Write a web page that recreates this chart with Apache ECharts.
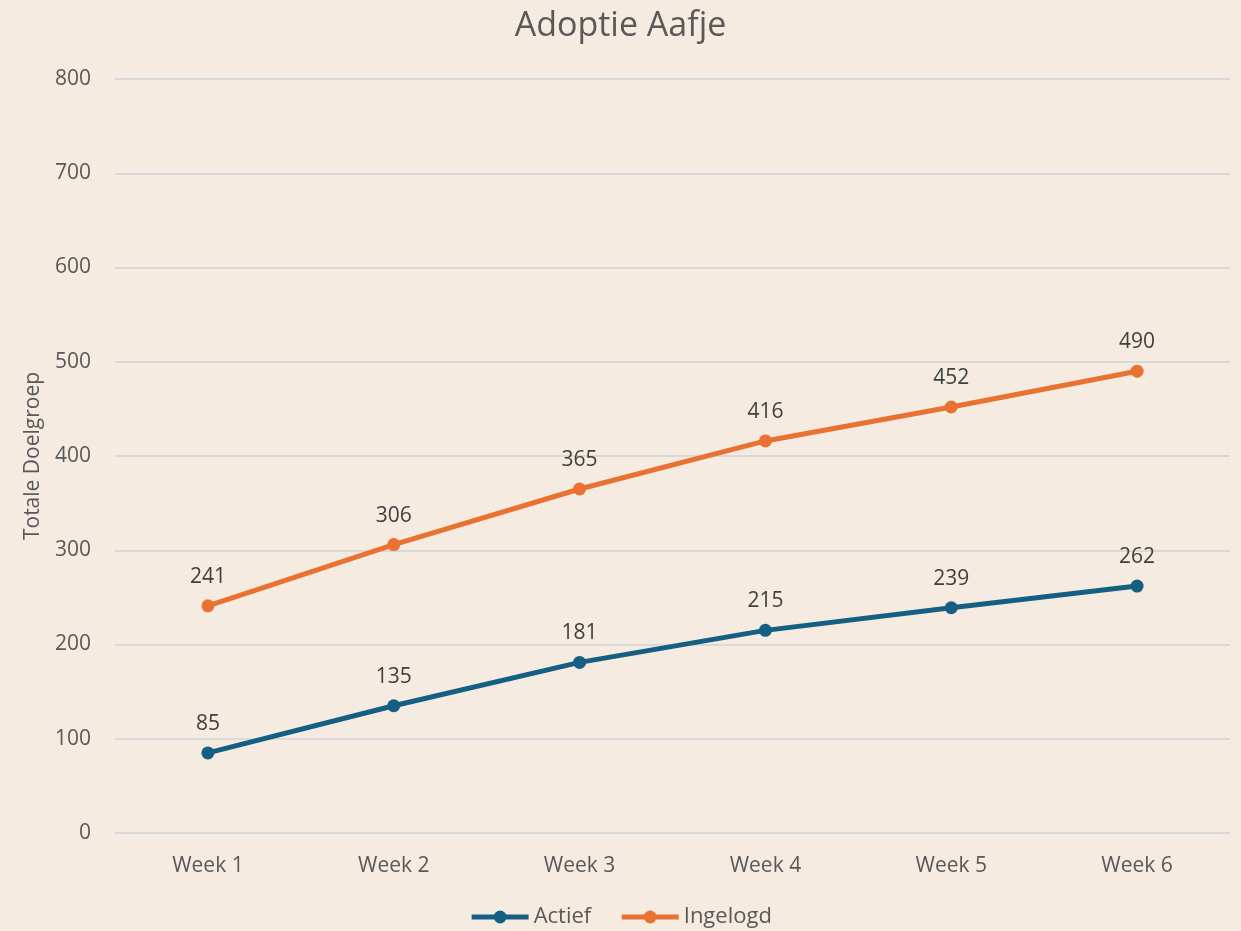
<!DOCTYPE html>
<html><head><meta charset="utf-8">
<script src="https://cdn.jsdelivr.net/npm/echarts@6/dist/echarts.min.js"></script>
<style>html,body{margin:0;padding:0;background:#F5EBE1;}#c{width:1241px;height:931px;}</style>
</head><body><div id="c"></div>
<script>
const categories = ['Week 1','Week 2','Week 3','Week 4','Week 5','Week 6'];
const actief = [85,135,181,215,239,262];
const ingelogd = [241,306,365,416,452,490];
const yTicks = [0,100,200,300,400,500,600,700,800];

const chart = echarts.init(document.getElementById('c'), null, {renderer:'canvas'});
const font = '"Open Sans", "Noto Sans", sans-serif';
const lbl = {show:true, position:'top', distance:12, color:'#404040', fontSize:21, fontFamily:font};
chart.setOption({
  backgroundColor:'#F5EBE1',
  animation:false,
  title:{text:'Adoptie Aafje', left:'center', top:4, textStyle:{color:'#595959', fontSize:34, fontWeight:'normal', fontFamily:font}},
  legend:{bottom:-2, left:'center', itemWidth:57, itemHeight:16, itemGap:28,
    lineStyle:{width:5},
    textStyle:{color:'#595959', fontSize:22, fontFamily:font},
    data:['Actief','Ingelogd']},
  grid:{left:115, right:11, top:79, bottom:98, containLabel:false},
  xAxis:{type:'category', data:categories, boundaryGap:true,
    axisLine:{show:false}, axisTick:{show:false},
    axisLabel:{color:'#595959', fontSize:21, margin:23, fontFamily:font}},
  yAxis:{type:'value', min:yTicks[0], max:yTicks[yTicks.length-1], interval:100,
    name:'Totale Doelgroep', nameLocation:'middle', nameGap:71, nameRotate:90,
    nameTextStyle:{color:'#595959', fontSize:21, fontFamily:font},
    axisLine:{show:false}, axisTick:{show:false},
    axisLabel:{color:'#595959', fontSize:21, margin:24, fontFamily:font},
    splitLine:{lineStyle:{color:'#D9D9D9', width:2}}},
  series:[
    {name:'Actief', type:'line', data:actief, symbol:'circle', symbolSize:13,
      lineStyle:{color:'#156082', width:5}, itemStyle:{color:'#156082'}, label:lbl},
    {name:'Ingelogd', type:'line', data:ingelogd, symbol:'circle', symbolSize:13,
      lineStyle:{color:'#E97132', width:5}, itemStyle:{color:'#E97132'}, label:lbl}
  ]
});
</script></body></html>
